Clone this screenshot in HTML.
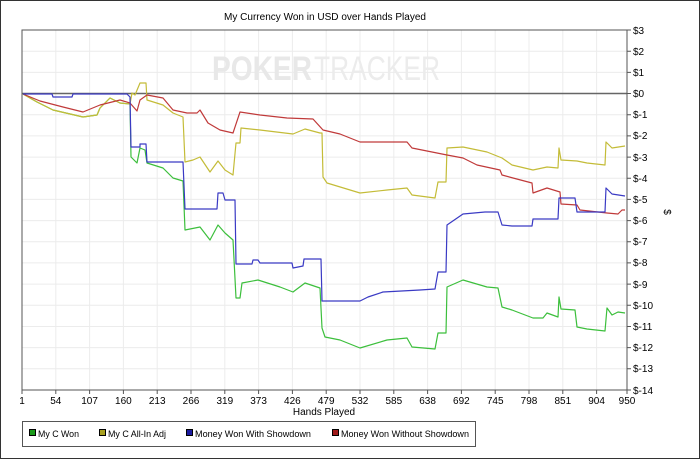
<!DOCTYPE html>
<html><head><meta charset="utf-8"><style>
html,body{margin:0;padding:0;background:#fff}
svg{display:block;font-family:"Liberation Sans",Arial,sans-serif}
</style></head><body>
<svg width="700" height="459" viewBox="0 0 700 459" xmlns="http://www.w3.org/2000/svg">
<rect x="0.5" y="0.5" width="699" height="458" fill="#fff" stroke="#333"/>
<text x="325" y="20" font-size="10" text-anchor="middle" fill="#000" textLength="202" lengthAdjust="spacingAndGlyphs">My Currency Won in USD over Hands Played</text>
<g stroke="#ececec" stroke-width="1">
<path d="M22 51.2H627M22 72.4H627M22 114.7H627M22 135.9H627M22 157.1H627M22 178.2H627M22 199.4H627M22 220.6H627M22 241.8H627M22 262.9H627M22 284.1H627M22 305.3H627M22 326.5H627M22 347.6H627M22 368.8H627"/>
<path d="M55.8 30V390M89.6 30V390M123.4 30V390M157.2 30V390M191 30V390M224.8 30V390M258.6 30V390M292.4 30V390M326.2 30V390M360 30V390M393.8 30V390M427.6 30V390M461.4 30V390M495.2 30V390M529 30V390M562.8 30V390M596.6 30V390"/>
</g>
<text x="212" y="80" font-size="34" font-weight="bold" fill="#e8e8e8" textLength="100" lengthAdjust="spacingAndGlyphs">POKER</text>
<text x="314" y="80" font-size="34" fill="#ececec" textLength="126" lengthAdjust="spacingAndGlyphs">TRACKER</text>
<line x1="22" y1="93.5" x2="627" y2="93.5" stroke="#666" stroke-width="1.5"/>
<g fill="none" stroke-width="1.2" stroke-linejoin="round">
<polyline stroke="#3cbf3c" points="23,94 37,102 53,110 83,117 97,115 100,108 110,98 120,103 130,104 131,157 137,163 140,148 145,150 147,163 163,168 173,178 183,181 185,230 200,227 210,240 218,225 225,233 233,240 236,298 240,298 242,283 258,280 280,287 293,292 305,283 320,288 322,328 325,337 340,340 360,348 387,340 407,338 412,347 435,349 438,333 446,333 447,287 463,280 487,287 498,288 502,307 512,310 533,318 543,318 547,313 558,317 559,297 561,309 575,310 577,327 587,329 605,331 607,308 612,315 618,312 625,313"/>
<polyline stroke="#c4bc38" points="23,94 37,102 53,110 83,117 97,115 100,108 110,98 120,103 130,104 132,93 135,95 140,83 146,83 147,100 163,105 173,113 183,117 185,162 193,160 200,157 210,172 218,161 225,170 233,175 236,143 240,143 241,128 260,130 293,134 305,129 320,133 322,133 323,177 327,183 360,193 387,190 407,188 412,195 435,198 438,182 446,182 447,148 463,147 487,152 502,158 512,165 533,170 547,167 558,168 559,148 561,160 577,161 587,163 605,165 606,142 612,148 625,146"/>
<polyline stroke="#c03a3a" points="23,94 40,101 63,107 83,112 100,105 120,100 130,103 137,111 140,100 147,95 163,98 173,110 187,113 197,113 200,110 208,123 220,130 233,133 240,112 260,115 287,118 313,119 323,130 340,134 360,142 407,142 412,148 447,155 463,158 477,165 500,170 502,175 513,178 532,183 533,193 547,188 560,192 561,204 577,205 580,210 607,213 618,214 622,210 625,210"/>
<polyline stroke="#3a3ac4" points="23,94 52,94 53,97 72,97 73,94 127,94 130,97 131,147 140,147 140,144 146,144 147,162 183,162 185,209 217,209 218,193 223,193 225,200 235,200 236,264 252,264 253,260 258,260 260,263 292,263 293,268 303,266 304,259 321,259 322,301 360,301 368,297 383,292 420,290 435,289 438,272 446,272 447,225 463,214 485,212 498,212 502,225 512,226 532,226 533,219 558,219 559,198 575,198 577,212 605,212 606,188 612,194 625,196"/>
</g>
<rect x="22" y="30" width="605" height="360" fill="none" stroke="#555"/>
<g stroke="#555"><path d="M627 30h4M627 51.2h4M627 72.4h4M627 93.5h4M627 114.7h4M627 135.9h4M627 157.1h4M627 178.2h4M627 199.4h4M627 220.6h4M627 241.8h4M627 262.9h4M627 284.1h4M627 305.3h4M627 326.5h4M627 347.6h4M627 368.8h4M627 390h4"/>
<path d="M22 390v4M55.8 390v4M89.6 390v4M123.4 390v4M157.2 390v4M191 390v4M224.8 390v4M258.6 390v4M292.4 390v4M326.2 390v4M360 390v4M393.8 390v4M427.6 390v4M461.4 390v4M495.2 390v4M529 390v4M562.8 390v4M596.6 390v4M627 390v4"/></g>
<g font-size="10" fill="#000">
<text x="633" y="34">$3</text><text x="633" y="55">$2</text><text x="633" y="76">$1</text><text x="633" y="97">$0</text>
<text x="633" y="118">$-1</text><text x="633" y="139">$-2</text><text x="633" y="161">$-3</text><text x="633" y="182">$-4</text>
<text x="633" y="203">$-5</text><text x="633" y="224">$-6</text><text x="633" y="245">$-7</text><text x="633" y="266">$-8</text>
<text x="633" y="288">$-9</text><text x="633" y="309">$-10</text><text x="633" y="330">$-11</text><text x="633" y="351">$-12</text>
<text x="633" y="372">$-13</text><text x="633" y="394">$-14</text>
<text x="664" y="212" transform="rotate(90 664 212)" text-anchor="middle">$</text>
</g>
<g font-size="10" fill="#000" text-anchor="middle">
<text x="22" y="404">1</text><text x="55.8" y="404">54</text><text x="89.6" y="404">107</text><text x="123.4" y="404">160</text><text x="157.2" y="404">213</text><text x="191" y="404">266</text><text x="224.8" y="404">319</text><text x="258.6" y="404">373</text><text x="292.4" y="404">426</text><text x="326.2" y="404">479</text><text x="360" y="404">532</text><text x="393.8" y="404">585</text><text x="427.6" y="404">638</text><text x="461.4" y="404">692</text><text x="495.2" y="404">745</text><text x="529" y="404">798</text><text x="562.8" y="404">851</text><text x="596.6" y="404">904</text><text x="627" y="404">950</text>
<text x="324" y="415">Hands Played</text>
</g>
<rect x="22.5" y="421.5" width="453" height="25" fill="#fff" stroke="#555"/>
<g font-size="9.5" fill="#000">
<rect x="29.5" y="429.5" width="6" height="6" fill="#1a9a1a" stroke="#000"/><text x="38" y="437" textLength="41" lengthAdjust="spacingAndGlyphs">My C Won</text>
<rect x="99.5" y="429.5" width="6" height="6" fill="#a8a020" stroke="#000"/><text x="108" y="437" textLength="58" lengthAdjust="spacingAndGlyphs">My C All-In Adj</text>
<rect x="186.5" y="429.5" width="6" height="6" fill="#1a1aa0" stroke="#000"/><text x="195" y="437" textLength="116" lengthAdjust="spacingAndGlyphs">Money Won With Showdown</text>
<rect x="332.5" y="429.5" width="6" height="6" fill="#a01a1a" stroke="#000"/><text x="341" y="437" textLength="128" lengthAdjust="spacingAndGlyphs">Money Won Without Showdown</text>
</g>
</svg>
</body></html>
